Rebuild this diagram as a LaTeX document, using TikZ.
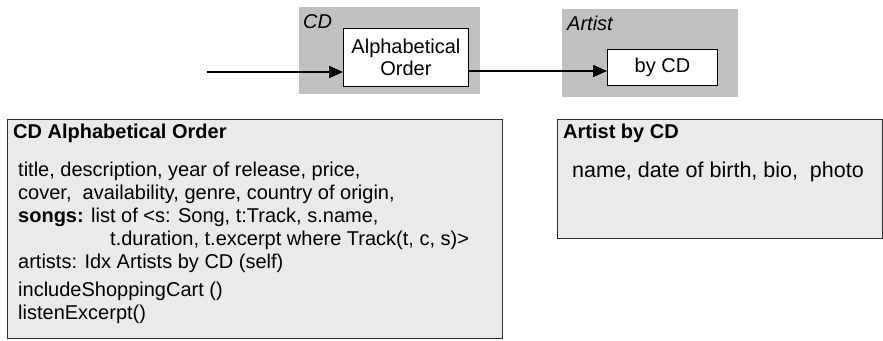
\documentclass[tikz,border=0pt]{standalone}
\usepackage{fontspec}
\setmainfont{Liberation Sans}
\usetikzlibrary{arrows.meta}
\definecolor{zonegray}{RGB}{192,192,192}
\definecolor{cardfill}{RGB}{234,234,234}
\definecolor{cardline}{RGB}{45,45,45}
\begin{document}
\begin{tikzpicture}[x=1pt,y=-1pt,
  grayzone/.style={fill=zonegray, draw=none, inner sep=0pt, anchor=north west},
  viewbox/.style={draw=black, fill=white, line width=0.9pt, font=\fontsize{20}{22}\selectfont, align=center, inner sep=0pt, anchor=north west},
  zonelabel/.style={font=\itshape\fontsize{20}{22}\selectfont, anchor=base west, inner sep=0pt},
  flow/.style={line width=1.6pt, -{Triangle[length=14pt,width=12pt]}},
  cardbox/.style={draw=cardline, fill=cardfill, line width=1.2pt, inner sep=0pt, anchor=north west},
  cardtitle/.style={font=\bfseries\fontsize{20}{22}\selectfont, anchor=base west, inner sep=0pt},
  cardtext/.style={font=\fontsize{20}{22}\selectfont, anchor=base west, inner sep=0pt},
  bigtext/.style={font=\fontsize{21.5}{24}\selectfont, anchor=base west, inner sep=0pt}
]
\useasboundingbox (0,0) rectangle (883,340);
% top zones
\node[grayzone, minimum width=181pt, minimum height=87pt] (cdzone) at (299,7) {};
\node[grayzone, minimum width=176pt, minimum height=88pt] (artzone) at (562,9) {};
\node[zonelabel] (cdlabel) at (303,28) {CD};
\node[zonelabel] (artlabel) at (567,30) {Artist};
\node[viewbox, minimum width=125pt, minimum height=58pt] (alpha) at (343,28) {Alphabetical\\Order};
\node[viewbox, minimum width=110pt, minimum height=36pt] (bycd) at (607,49) {by CD};
% arrows
\coordinate (src) at (207,72);
\draw[flow] (src) -- (src -| alpha.west);
\draw[flow] (alpha.east |- 0,71) -- (bycd.west |- 0,71);
% cards
\node[cardbox, minimum width=495pt, minimum height=219pt] (cdcard) at (7,119) {};
\node[cardbox, minimum width=325pt, minimum height=119pt] (artcard) at (557,119) {};
\node[cardtitle] (cdtitle) at (13,138) {CD Alphabetical Order};
\node[cardtext] (l1) at (18,176) {title, description, year of release, price,};
\node[cardtext] (l2) at (18,199) {cover,\ \ availability, genre, country of origin,};
\node[cardtext] (l3) at (18,222) {\textbf{songs:} list of <s: Song, t:Track, s.name,};
\node[cardtext] (l4) at (110,245) {t.duration, t.excerpt where Track(t, c, s)>};
\node[cardtext] (l5) at (18,268) {artists: Idx Artists by CD (self)};
\node[cardtext] (l6) at (18,296) {includeShoppingCart ()};
\node[cardtext] (l7) at (18,319) {listenExcerpt()};
\node[cardtitle] (arttitle) at (563,138) {Artist by CD};
\node[bigtext] (artbody) at (572,177) {name, date of birth, bio,\ \ photo};
\end{tikzpicture}
\end{document}
